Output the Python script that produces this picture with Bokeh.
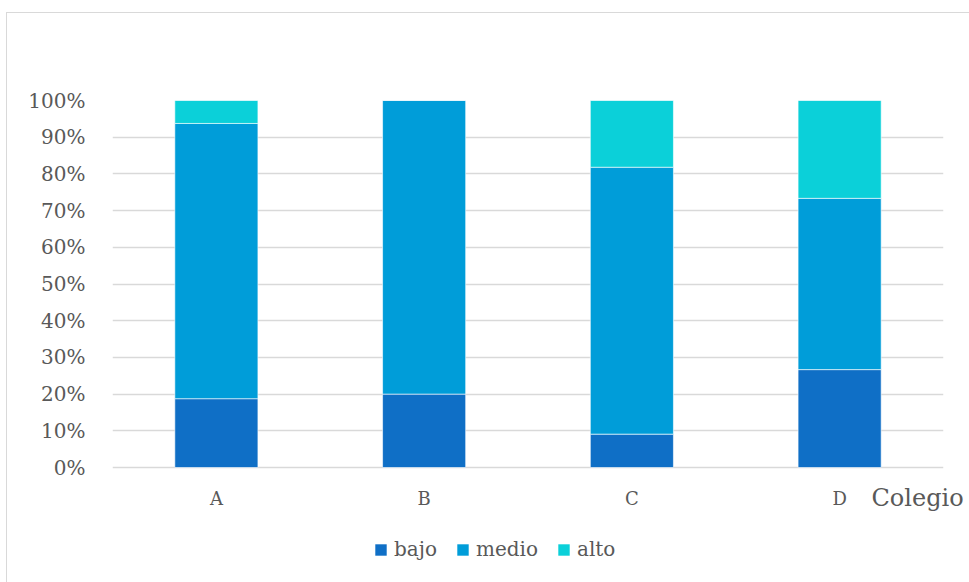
from bokeh.plotting import figure
from bokeh.models import (ColumnDataSource, Legend, LegendItem, LinearAxis, FixedTicker,
                          Range1d)
from bokeh.core.properties import value
from bokeh.embed import file_html
from bokeh.resources import INLINE

# ---- data ----
colegios = ["A", "B", "C", "D"]
bajo = [0.1875, 0.20, 0.0909, 0.2667]
medio = [0.75, 0.80, 0.7273, 0.4667]
alto = [0.0625, 0.0, 0.1818, 0.2666]
series = ["bajo", "medio", "alto"]
colors = ["#0F6FC6", "#009DD9", "#0BD0D9"]
y_ticks = [0.0, 0.1, 0.2, 0.3, 0.4, 0.5, 0.6, 0.7, 0.8, 0.9, 1.0]
y_tick_labels = ["0%", "10%", "20%", "30%", "40%", "50%", "60%", "70%", "80%", "90%", "100%"]
x_title = "Colegio"

FONT = "DejaVu Serif"
TXT = "#595959"
GRID = "#d9d9d9"

# layout (pixels)
PX_PER_UNIT = 367.0
FRAME_H = 476
y_start = 1.0 - FRAME_H / PX_PER_UNIT
label_y = -0.084   # row of category labels, just under the 0% line

source = ColumnDataSource(dict(colegio=colegios, bajo=bajo, medio=medio, alto=alto))

p = figure(x_range=colegios, y_range=Range1d(y_start, 1),
           frame_width=831, frame_height=FRAME_H, x_axis_location=None,
           output_backend="svg", toolbar_location=None,
           min_border_left=105, min_border_right=27, min_border_top=87, min_border_bottom=7)
p.margin = (12, 0, 0, 6)
p.styles = {"border-left": "1px solid #d9d9d9", "border-top": "1px solid #d9d9d9",
            "box-sizing": "border-box"}
p.outline_line_color = None
p.background_fill_color = "white"
p.border_fill_color = "white"

renderers = p.vbar_stack(series, x="colegio", width=0.4, color=colors, source=source,
                         line_color="white", line_width=0.6)

# y axis
p.yaxis.ticker = FixedTicker(ticks=y_ticks)
p.yaxis.major_label_overrides = {t: l for t, l in zip(y_ticks, y_tick_labels)}
p.yaxis.axis_line_color = None
p.yaxis.major_tick_line_color = None
p.yaxis.minor_tick_line_color = None
p.yaxis.major_label_text_font = FONT
p.yaxis.major_label_text_font_size = "20px"
p.yaxis.major_label_text_color = TXT
p.yaxis.major_label_standoff = 21

p.xgrid.grid_line_color = None
p.ygrid.grid_line_color = GRID
p.ygrid.grid_line_width = 1.5

# category labels under the bars
p.text(x=colegios, y=[label_y] * len(colegios), text=colegios,
       text_font=value(FONT), text_font_size="18px", text_color=TXT,
       text_align="center", text_baseline="middle")

# axis title at the right end of the category row (drawn by a right-side axis, unclipped)
title_axis = LinearAxis(ticker=FixedTicker(ticks=[label_y]),
                        major_label_overrides={label_y: x_title},
                        axis_line_color=None, major_tick_line_color=None,
                        minor_tick_line_color=None,
                        major_label_text_font=FONT, major_label_text_font_size="24px",
                        major_label_text_color=TXT, major_label_standoff=-78)
p.add_layout(title_axis, "right")

legend = Legend(items=[LegendItem(label=s, renderers=[r]) for s, r in zip(series, renderers)],
                orientation="horizontal", location=(261, 15),
                label_text_font=FONT, label_text_font_size="20px", label_text_color=TXT,
                glyph_width=15, glyph_height=15, label_standoff=6, spacing=18,
                padding=4, margin=0, border_line_color=None, background_fill_alpha=0)
p.add_layout(legend, "center")

open("out.html", "w").write(file_html(p, INLINE))
